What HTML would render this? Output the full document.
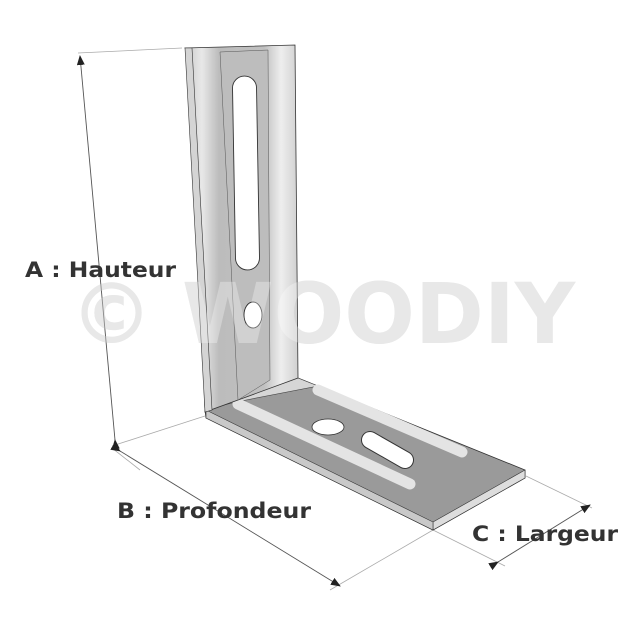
<!DOCTYPE html>
<html><head><style>
html,body{margin:0;padding:0;background:#fff}
svg{display:block}
text{font-family:"DejaVu Sans","Liberation Sans",sans-serif;font-weight:bold}
</style></head><body>
<svg width="640" height="640" viewBox="0 0 640 640" xmlns="http://www.w3.org/2000/svg">
<defs>
<linearGradient id="v" x1="0" x2="1" y1="0" y2="0">
<stop offset="0" stop-color="#c8c8c8"/><stop offset="0.15" stop-color="#e8e8e8"/><stop offset="0.3" stop-color="#bcbcbc"/>
<stop offset="0.7" stop-color="#c0c0c0"/><stop offset="0.85" stop-color="#eeeeee"/><stop offset="1" stop-color="#d0d0d0"/>
</linearGradient>
<marker id="ar" markerWidth="10" markerHeight="8" refX="9" refY="4" orient="auto" markerUnits="userSpaceOnUse">
<path d="M0,0 L10,4 L0,8 z" fill="#222"/></marker>
</defs>
<text x="70" y="343" font-size="84" fill="#dedede" textLength="505" lengthAdjust="spacingAndGlyphs">© WOODIY</text>
<g stroke="#aaa" stroke-width="0.8" fill="none">
<line x1="78" y1="53" x2="182" y2="48"/>
<line x1="112" y1="446" x2="205" y2="416"/>
<line x1="112" y1="448" x2="140" y2="470"/>
<line x1="433" y1="530" x2="330" y2="590"/>
<line x1="433" y1="530" x2="505" y2="566"/>
<line x1="526" y1="476" x2="592" y2="508"/>
</g>
<g stroke="#555" stroke-width="0.9" fill="none">
<line x1="115" y1="440" x2="80" y2="56" marker-end="url(#ar)" marker-start="url(#ar)"/>
<line x1="120" y1="451" x2="340" y2="586" marker-end="url(#ar)" marker-start="url(#ar)"/>
<line x1="498" y1="562" x2="590" y2="505" marker-end="url(#ar)" marker-start="url(#ar)"/>
</g>
<polygon points="205,410 298,378 525,470 525,478 433,530 206,418" fill="#9a9a9a" stroke="#333" stroke-width="0.8"/>
<polygon points="433,522 525,470 525,478 433,530" fill="#ddd" stroke="#333" stroke-width="0.6"/>
<polygon points="206,410 433,522 433,530 206,418" fill="#c9c9c9" stroke="#333" stroke-width="0.6"/>
<polygon points="212,408 298,378 318,386 236,402" fill="#d6d6d6" stroke="#444" stroke-width="0.6"/>
<path d="M238,404 L410,484" stroke="#e4e4e4" stroke-width="11" stroke-linecap="round"/>
<path d="M318,390 L462,452" stroke="#e4e4e4" stroke-width="11" stroke-linecap="round"/>
<ellipse cx="328" cy="427" rx="16" ry="8" fill="#fff" stroke="#333" stroke-width="0.8"/>
<path d="M370,440 L405,460" stroke="#333" stroke-width="18" stroke-linecap="round"/>
<path d="M370,440 L405,460" stroke="#fff" stroke-width="16" stroke-linecap="round"/>
<polygon points="185,48 295,45 298,378 238,400 205,412 192,60" fill="url(#v)" stroke="#333" stroke-width="0.8"/>
<polygon points="185,48 192,48 212,410 205,412" fill="#d4d4d4" stroke="#333" stroke-width="0.6"/>
<polygon points="220,52 268,50 270,380 238,400" fill="#bdbdbd" stroke="#555" stroke-width="0.5"/>
<rect x="234" y="76" width="24" height="194" rx="12" fill="#fff" stroke="#333" stroke-width="0.9" transform="rotate(-1 246 173)"/>
<ellipse cx="253" cy="315" rx="9" ry="13" fill="#fff" stroke="#333" stroke-width="0.9"/>
<text x="70" y="343" font-size="84" fill="#fff" opacity="0.3" textLength="505" lengthAdjust="spacingAndGlyphs">© WOODIY</text>
<text x="25" y="277" font-size="21" fill="#333" textLength="151" lengthAdjust="spacingAndGlyphs">A : Hauteur</text>
<text x="117" y="518" font-size="21" fill="#333" textLength="194" lengthAdjust="spacingAndGlyphs">B : Profondeur</text>
<text x="472" y="541" font-size="21" fill="#333" textLength="146" lengthAdjust="spacingAndGlyphs">C : Largeur</text>
</svg>
</body></html>
